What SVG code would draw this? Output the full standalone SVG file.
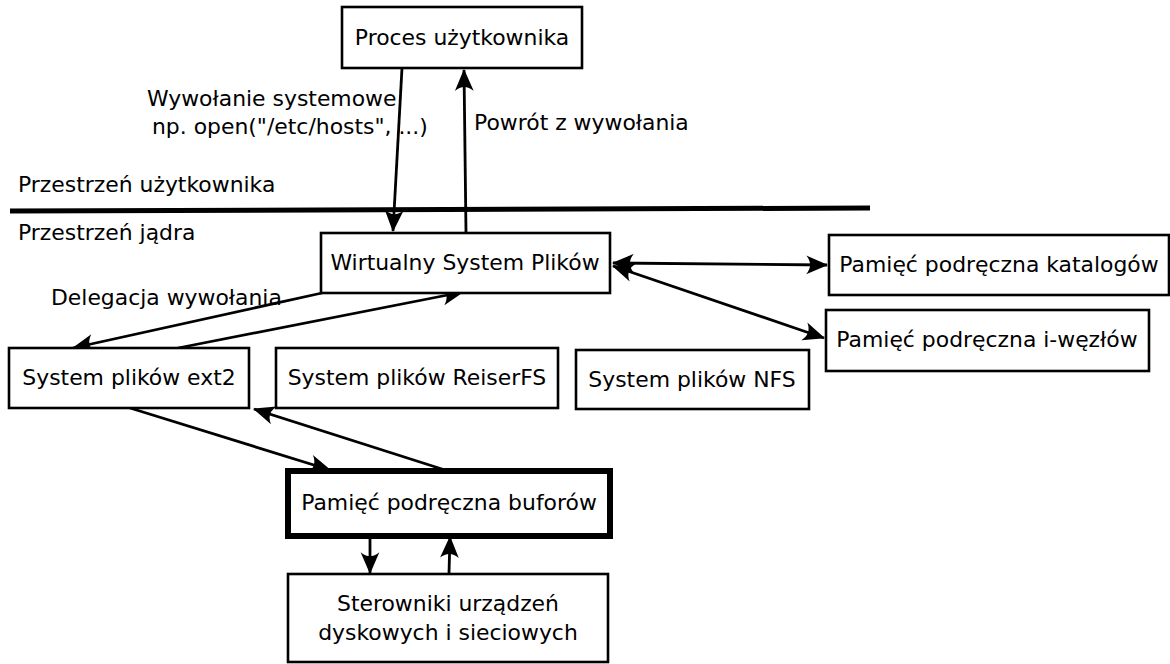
<svg xmlns="http://www.w3.org/2000/svg" width="1170" height="664" viewBox="0 0 1170 664">
  <style>
    .box { fill: #ffffff; stroke: #000000; stroke-width: 2.6; }
    .bold { stroke-width: 6; }
    .lbl { font-family: "DejaVu Sans", sans-serif; font-size: 21.9px; fill: #000000; }
    .mid { text-anchor: middle; }
    .wire { fill: none; stroke: #000000; stroke-width: 2.8; }
    .end { marker-end: url(#arrow); }
    .both { marker-start: url(#arrowStart); marker-end: url(#arrow); }
  </style>
  <defs>
    <marker id="arrow" markerUnits="userSpaceOnUse" markerWidth="26" markerHeight="26" viewBox="-22 -11 25 22" refX="0" refY="0" orient="auto">
      <path d="M 1,0 L -20,-9 C -15,-3 -15,3 -20,9 Z" fill="#000000"/>
    </marker>
    <marker id="arrowStart" markerUnits="userSpaceOnUse" markerWidth="26" markerHeight="26" viewBox="-22 -11 25 22" refX="0" refY="0" orient="auto-start-reverse">
      <path d="M 1,0 L -20,-9 C -15,-3 -15,3 -20,9 Z" fill="#000000"/>
    </marker>
  </defs>

  <!-- user / kernel space boundary -->
  <g id="boundary">
    <line x1="10" y1="211" x2="870" y2="208" stroke="#000000" stroke-width="5"/>
    <text class="lbl" x="18" y="192">Przestrzeń użytkownika</text>
    <text class="lbl" x="18" y="240">Przestrzeń jądra</text>
  </g>

  <g id="connectors">
    <line class="wire end" x1="402" y1="68" x2="393" y2="231"/>
    <line class="wire end" x1="466" y1="233" x2="464" y2="70"/>
    <line class="wire end" x1="322" y1="293" x2="73" y2="348"/>
    <line class="wire end" x1="178" y1="348" x2="463" y2="292"/>
    <line class="wire both" x1="613" y1="263" x2="827" y2="265"/>
    <line class="wire both" x1="613" y1="266" x2="824" y2="338"/>
    <line class="wire end" x1="130" y1="408" x2="330" y2="470"/>
    <line class="wire end" x1="445" y1="470" x2="254" y2="409"/>
    <line class="wire end" x1="370" y1="537" x2="370" y2="573"/>
    <line class="wire end" x1="449" y1="573" x2="450" y2="537"/>
    <text class="lbl" x="147" y="106">Wywołanie systemowe</text>
    <text class="lbl" x="152" y="134">np. open("/etc/hosts", ...)</text>
    <text class="lbl" x="474" y="130">Powrót z wywołania</text>
    <text class="lbl" x="51" y="305">Delegacja wywołania</text>
  </g>

  <g id="proces">
    <rect class="box" x="342" y="7" width="240" height="61"/>
    <text class="lbl mid" x="462" y="45">Proces użytkownika</text>
  </g>
  <g id="vfs">
    <rect class="box" x="321" y="233" width="289" height="60"/>
    <text class="lbl mid" x="465" y="270">Wirtualny System Plików</text>
  </g>
  <g id="katalogi">
    <rect class="box" x="829" y="235" width="340" height="60"/>
    <text class="lbl mid" x="999" y="272">Pamięć podręczna katalogów</text>
  </g>
  <g id="iwezly">
    <rect class="box" x="826" y="310" width="323" height="61"/>
    <text class="lbl mid" x="987" y="347">Pamięć podręczna i-węzłów</text>
  </g>
  <g id="ext2">
    <rect class="box" x="9" y="348" width="240" height="60"/>
    <text class="lbl mid" x="129" y="385">System plików ext2</text>
  </g>
  <g id="reiserfs">
    <rect class="box" x="276" y="348" width="282" height="60"/>
    <text class="lbl mid" x="417" y="385">System plików ReiserFS</text>
  </g>
  <g id="nfs">
    <rect class="box" x="576" y="350" width="233" height="59"/>
    <text class="lbl mid" x="692" y="387">System plików NFS</text>
  </g>
  <g id="bufory">
    <rect class="box bold" x="288" y="471" width="322" height="65"/>
    <text class="lbl mid" x="449" y="510">Pamięć podręczna buforów</text>
  </g>
  <g id="sterowniki">
    <rect class="box" x="288" y="574" width="320" height="88"/>
    <text class="lbl mid" x="448" y="611">Sterowniki urządzeń</text>
    <text class="lbl mid" x="448" y="640">dyskowych i sieciowych</text>
  </g>
</svg>
